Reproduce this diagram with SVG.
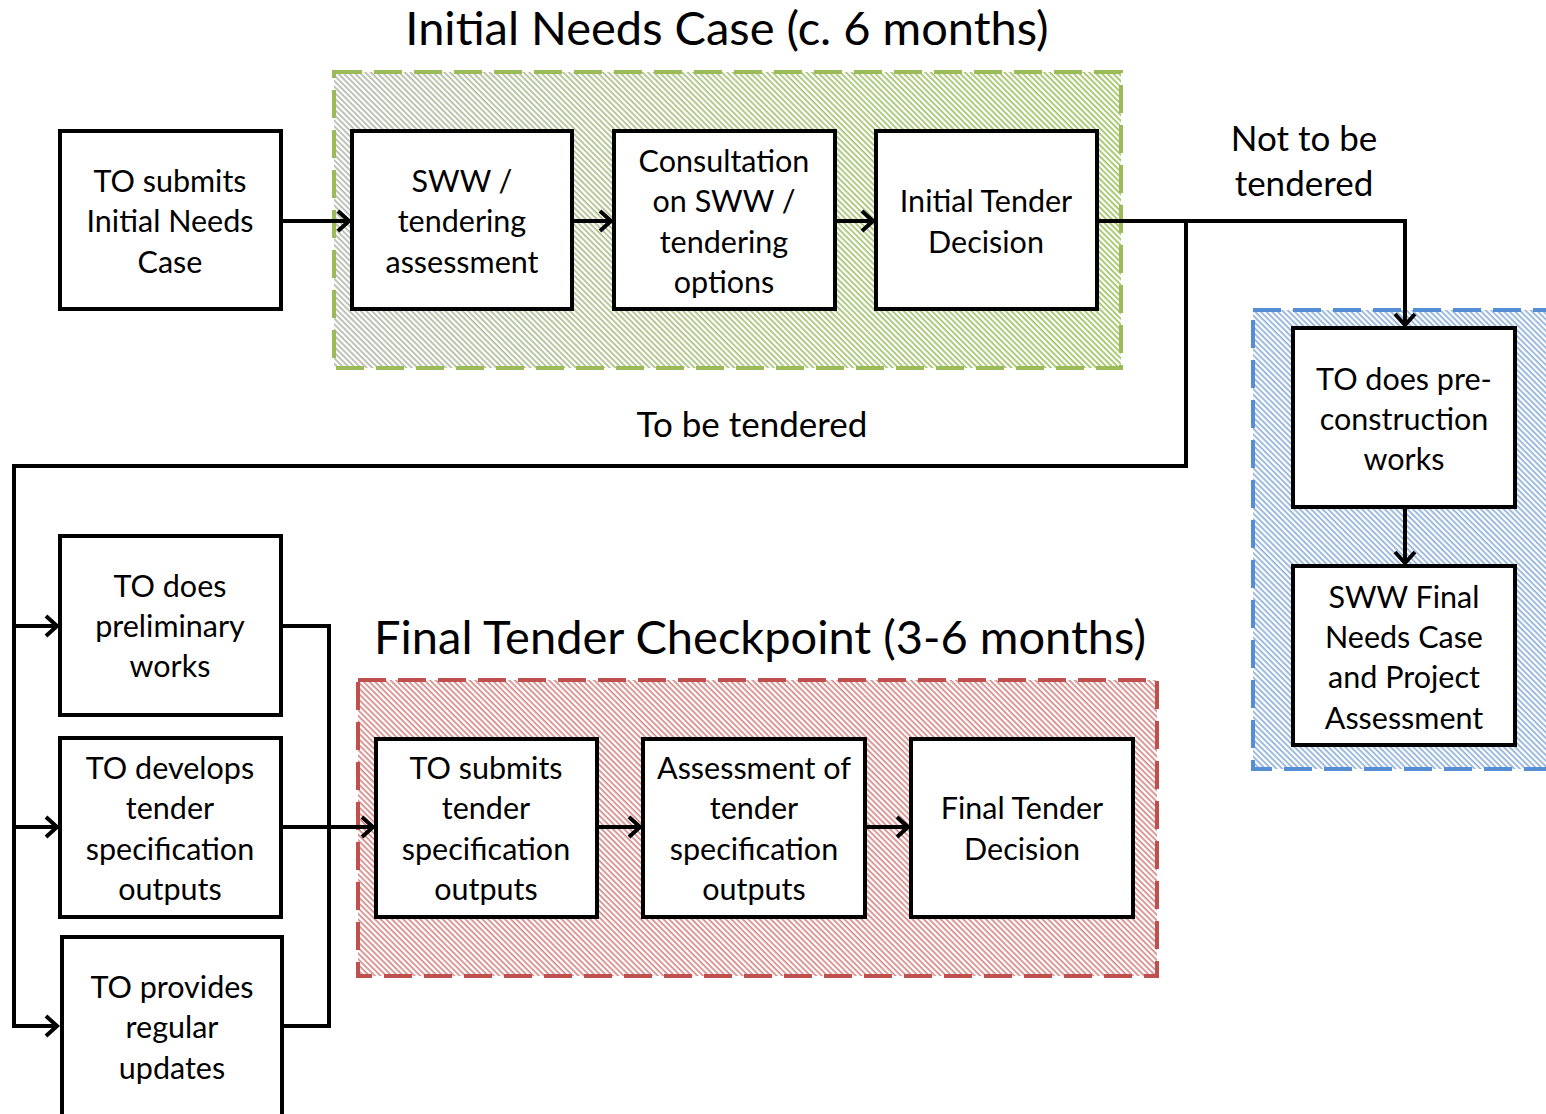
<svg xmlns="http://www.w3.org/2000/svg" width="1546" height="1114" viewBox="0 0 1546 1114">
  <style>
    .node rect { fill: #fff; stroke: #000; stroke-width: 4; }
    .node text, .lbl { font-family: Lato, "Open Sans", "Liberation Sans", sans-serif; font-size: 30.5px; fill: #000; text-anchor: middle; }
    .title { font-family: Lato, "Open Sans", "Liberation Sans", sans-serif; font-size: 47px; fill: #000; text-anchor: middle; }
    .lbl { font-size: 35px; }
    .conn { fill: none; stroke: #000; stroke-width: 4; stroke-linejoin: miter; }
    .frame { fill: none; stroke-width: 4; stroke-dasharray: 28 12; }
  </style>
  <defs>
    <!-- white diagonal stripes laid over a tinted background give the hatched look -->
    <pattern id="hatch" patternUnits="userSpaceOnUse" width="4" height="4" patternTransform="rotate(-45)">
      <rect x="0" y="0" width="2.3" height="4" fill="#fff"/>
    </pattern>
    <linearGradient id="greenFade" x1="0" y1="0" x2="1" y2="0">
      <stop offset="0" stop-color="#b4b8ad"/>
      <stop offset="0.5" stop-color="#a8c27a"/>
      <stop offset="1" stop-color="#9fc25f"/>
    </linearGradient>
    <marker id="arrow" viewBox="0 0 16 24" refX="14" refY="12" markerWidth="16" markerHeight="24" markerUnits="userSpaceOnUse" orient="auto">
      <polyline points="2,2 13,12 2,22" fill="none" stroke="#000" stroke-width="4"/>
    </marker>
  </defs>

  <rect width="1546" height="1114" fill="#fff"/>

  <!-- stage frames -->
  <g id="stage-initial">
    <rect x="334" y="72" width="787" height="296" fill="url(#greenFade)"/>
    <rect x="334" y="72" width="787" height="296" fill="url(#hatch)"/>
    <rect x="334" y="72" width="787" height="296" class="frame" stroke="#9bbb59"/>
  </g>
  <g id="stage-final">
    <rect x="358" y="680" width="799" height="296" fill="#d48a88"/>
    <rect x="358" y="680" width="799" height="296" fill="url(#hatch)"/>
    <rect x="358" y="680" width="799" height="296" class="frame" stroke="#c0504d"/>
  </g>
  <g id="stage-notender">
    <rect x="1253" y="310" width="300" height="459" fill="#8fb0da"/>
    <rect x="1253" y="310" width="300" height="459" fill="url(#hatch)"/>
    <rect x="1253" y="310" width="300" height="459" class="frame" stroke="#558ed5"/>
  </g>

  <text class="title" x="727" y="45">Initial Needs Case (c. 6 months)</text>
  <text class="title" x="760" y="654">Final Tender Checkpoint (3-6 months)</text>

  <!-- connectors -->
  <g id="connectors">
    <path class="conn" d="M281,221 H350" marker-end="url(#arrow)"/>
    <path class="conn" d="M572,221 H612" marker-end="url(#arrow)"/>
    <path class="conn" d="M835,221 H874" marker-end="url(#arrow)"/>
    <path class="conn" d="M1097,221 H1405 V326" marker-end="url(#arrow)"/>
    <path class="conn" d="M1405,507 V564" marker-end="url(#arrow)"/>
    <path class="conn" d="M1186,221 V466 H14 V1026 H58" marker-end="url(#arrow)"/>
    <path class="conn" d="M14,626 H58" marker-end="url(#arrow)"/>
    <path class="conn" d="M14,827 H58" marker-end="url(#arrow)"/>
    <path class="conn" d="M281,626 H329 V1026 H282"/>
    <path class="conn" d="M281,827 H374" marker-end="url(#arrow)"/>
    <path class="conn" d="M597,827 H641" marker-end="url(#arrow)"/>
    <path class="conn" d="M865,827 H909" marker-end="url(#arrow)"/>
    <text class="lbl" x="1304" y="151">Not to be</text>
    <text class="lbl" x="1304" y="196">tendered</text>
    <text class="lbl" x="752" y="437">To be tendered</text>
  </g>

  <!-- top row -->
  <g id="n-submit-initial" class="node">
    <rect x="60" y="131" width="221" height="178"/>
    <text x="170" y="192">TO submits</text>
    <text x="170" y="232">Initial Needs</text>
    <text x="170" y="273">Case</text>
  </g>
  <g id="n-sww-assessment" class="node">
    <rect x="352" y="131" width="220" height="178"/>
    <text x="462" y="192">SWW /</text>
    <text x="462" y="232">tendering</text>
    <text x="462" y="273">assessment</text>
  </g>
  <g id="n-consultation" class="node">
    <rect x="614" y="131" width="221" height="178"/>
    <text x="724" y="172">Consultation</text>
    <text x="724" y="212">on SWW /</text>
    <text x="724" y="253">tendering</text>
    <text x="724" y="293">options</text>
  </g>
  <g id="n-initial-decision" class="node">
    <rect x="876" y="131" width="221" height="178"/>
    <text x="986" y="212">Initial Tender</text>
    <text x="986" y="253">Decision</text>
  </g>

  <!-- not-tendered branch -->
  <g id="n-preconstruction" class="node">
    <rect x="1293" y="328" width="222" height="179"/>
    <text x="1404" y="390">TO does pre-</text>
    <text x="1404" y="430">construction</text>
    <text x="1404" y="470">works</text>
  </g>
  <g id="n-sww-final" class="node">
    <rect x="1293" y="566" width="222" height="179"/>
    <text x="1404" y="608">SWW Final</text>
    <text x="1404" y="648">Needs Case</text>
    <text x="1404" y="688">and Project</text>
    <text x="1404" y="729">Assessment</text>
  </g>

  <!-- tendered branch, left column -->
  <g id="n-preliminary" class="node">
    <rect x="60" y="536" width="221" height="179"/>
    <text x="170" y="597">TO does</text>
    <text x="170" y="637">preliminary</text>
    <text x="170" y="677">works</text>
  </g>
  <g id="n-develops-spec" class="node">
    <rect x="60" y="738" width="221" height="179"/>
    <text x="170" y="779">TO develops</text>
    <text x="170" y="819">tender</text>
    <text x="170" y="860">specification</text>
    <text x="170" y="900">outputs</text>
  </g>
  <g id="n-updates" class="node">
    <rect x="62" y="937" width="220" height="182"/>
    <text x="172" y="998">TO provides</text>
    <text x="172" y="1038">regular</text>
    <text x="172" y="1079">updates</text>
  </g>

  <!-- final tender checkpoint -->
  <g id="n-submit-spec" class="node">
    <rect x="376" y="739" width="221" height="178"/>
    <text x="486" y="779">TO submits</text>
    <text x="486" y="819">tender</text>
    <text x="486" y="860">specification</text>
    <text x="486" y="900">outputs</text>
  </g>
  <g id="n-assess-spec" class="node">
    <rect x="643" y="739" width="222" height="178"/>
    <text x="754" y="779">Assessment of</text>
    <text x="754" y="819">tender</text>
    <text x="754" y="860">specification</text>
    <text x="754" y="900">outputs</text>
  </g>
  <g id="n-final-decision" class="node">
    <rect x="911" y="739" width="222" height="178"/>
    <text x="1022" y="819">Final Tender</text>
    <text x="1022" y="860">Decision</text>
  </g>
</svg>
